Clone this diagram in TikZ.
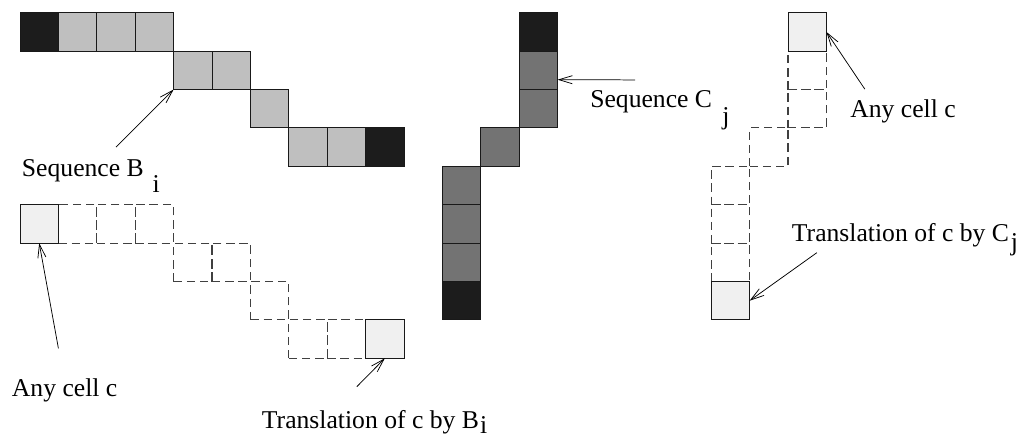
\documentclass[tikz,border=0pt]{standalone}
\usepackage{fontspec}
\setmainfont{Liberation Serif}
\usetikzlibrary{arrows.meta}

\begin{document}
\begin{tikzpicture}[x=1cm,y=1cm,
    cell/.style={draw=black!90, line width=0.7pt, minimum size=1cm, inner sep=0pt, outer sep=0pt},
    dark/.style={cell, fill=black!89},
    paleB/.style={cell, fill=black!25},
    midC/.style={cell, fill=black!55},
    light/.style={cell, fill=black!6},
    ghost/.style={cell, draw=black!75, line width=0.8pt, dash pattern=on 6.2pt off 3.6pt},
    lbl/.style={anchor=base west, inner sep=0pt, font=\fontsize{19}{23}\selectfont},
    arr/.style={-{Straight Barb[length=10pt,width=6pt]}, line width=0.55pt}]
			\useasboundingbox (-0.521,0.331) rectangle (26.328,-11.101);
			% sequence B_i
			\node[dark]  (b1)  at (0.5,-0.5) {};
			\node[paleB] (b2)  at (1.5,-0.5) {};
			\node[paleB] (b3)  at (2.5,-0.5) {};
			\node[paleB] (b4)  at (3.5,-0.5) {};
			\node[paleB] (b5)  at (4.5,-1.5) {};
			\node[paleB] (b6)  at (5.5,-1.5) {};
			\node[paleB] (b7)  at (6.5,-2.5) {};
			\node[paleB] (b8)  at (7.5,-3.5) {};
			\node[paleB] (b9)  at (8.5,-3.5) {};
			\node[dark]  (b10) at (9.5,-3.5) {};
			% sequence C_j
			\node[dark] (c1) at (13.5,-0.5) {};
			\node[midC] (c2) at (13.5,-1.5) {};
			\node[midC] (c3) at (13.5,-2.5) {};
			\node[midC] (c4) at (12.5,-3.5) {};
			\node[midC] (c5) at (11.5,-4.5) {};
			\node[midC] (c6) at (11.5,-5.5) {};
			\node[midC] (c7) at (11.5,-6.5) {};
			\node[dark] (c8) at (11.5,-7.5) {};
			% translation of c by B_i
			\node[ghost] (t2) at (1.5,-5.5) {};
			\node[ghost] (t3) at (2.5,-5.5) {};
			\node[ghost] (t4) at (3.5,-5.5) {};
			\node[ghost] (t5) at (4.5,-6.5) {};
			\node[ghost] (t6) at (5.5,-6.5) {};
			\node[ghost] (t7) at (6.5,-7.5) {};
			\node[ghost] (t8) at (7.5,-8.5) {};
			\node[ghost] (t9) at (8.5,-8.5) {};
			\node[light] (t1)  at (0.5,-5.5) {};
			\node[light] (t10) at (9.5,-8.5) {};
			% translation of c by C_j
			\node[ghost] (r2) at (20.5,-1.5) {};
			\node[ghost] (r3) at (20.5,-2.5) {};
			\node[ghost] (r4) at (19.5,-3.5) {};
			\node[ghost] (r5) at (18.5,-4.5) {};
			\node[ghost] (r6) at (18.5,-5.5) {};
			\node[ghost] (r7) at (18.5,-6.5) {};
			\node[light] (r1) at (20.5,-0.5) {};
			\node[light] (r8) at (18.5,-7.5) {};
			% labels
			\node[lbl] (seqB) at (0.044,-4.253) {Sequence B\hspace{0.23cm}\raisebox{-0.44cm}{i}};
			\node[lbl] (seqC) at (14.844,-2.474) {Sequence C\hspace{0.27cm}\raisebox{-0.44cm}{j}};
			\node[lbl] (anyR) at (21.615,-2.716) {Any cell c};
			\node[lbl] (trC)  at (20.096,-5.945) {Translation of c by C\hspace{0.05cm}\raisebox{-0.25cm}{j}};
			\node[lbl] (anyL) at (-0.216,-10.0) {Any cell c};
			\node[lbl] (trB)  at (6.294,-10.82) {Translation of c by B\hspace{0.03cm}\raisebox{-0.14cm}{i}};
			% arrow tails
			\coordinate (seqBt) at (2.5,-3.5);
			\coordinate (seqCt) at (16.02,-1.75);
			\coordinate (anyRt) at (22.0,-1.99);
			\coordinate (trCt)  at (20.75,-6.25);
			\coordinate (anyLt) at (1.0,-8.74);
			\coordinate (trBt)  at (8.77,-9.74);
			\draw[arr] (seqBt) -- (b5.south west);
			\draw[arr] (seqCt) -- (c2.-26.57);
			\draw[arr] (anyRt) -- (r1.east);
			\draw[arr] (trCt)  -- (r8.east);
			\draw[arr] (anyLt) -- (t1.south);
			\draw[arr] (trBt)  -- (t10.south);
		\end{tikzpicture}
\end{document}
